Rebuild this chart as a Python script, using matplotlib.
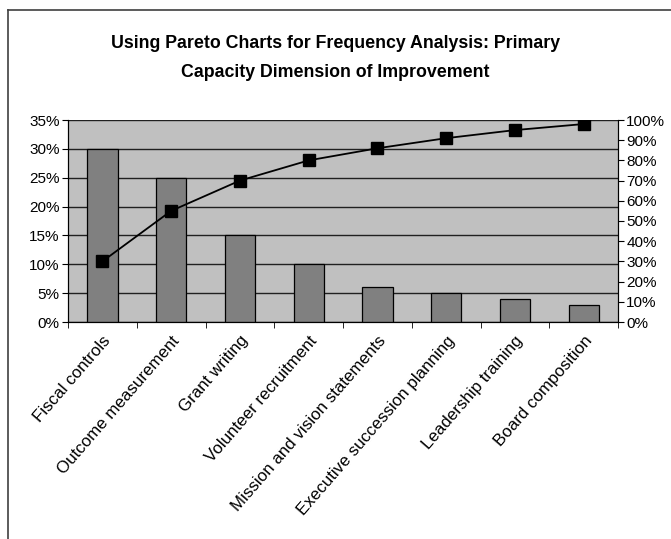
import matplotlib.pyplot as plt
from matplotlib.lines import Line2D
from matplotlib.ticker import FixedLocator

plt.rcParams['font.family'] = ['Liberation Sans', 'DejaVu Sans']

categories = ["Fiscal controls", "Outcome measurement", "Grant writing",
              "Volunteer recruitment", "Mission and vision statements",
              "Executive succession planning", "Leadership training",
              "Board composition"]
share = [30, 25, 15, 10, 6, 5, 4, 3]            # percent of respondents
cumulative = [30, 55, 70, 80, 86, 91, 95, 98]    # running total, percent

left_ticks = [0, 5, 10, 15, 20, 25, 30, 35]
right_ticks = [0, 10, 20, 30, 40, 50, 60, 70, 80, 90, 100]

fig = plt.figure(figsize=(6.71, 5.39), dpi=100)
fig.patch.set_facecolor('white')

# chart area frame (left and top edges only, the rest runs off the page)
fig.add_artist(Line2D([8 / 671, 8 / 671], [0, 1 - 10 / 539], color='#404040', lw=1.2,
                      transform=fig.transFigure))
fig.add_artist(Line2D([8 / 671, 1], [1 - 10 / 539, 1 - 10 / 539], color='#404040', lw=1.2,
                      transform=fig.transFigure))

ax = fig.add_axes([68 / 671, 1 - 322 / 539, 550 / 671, 202 / 539])
ax.set_facecolor('#C0C0C0')

x = list(range(len(categories)))
ax.bar(x, share, width=0.44, color='#808080', edgecolor='black', linewidth=0.9, zorder=3)

ax.set_xlim(-0.5, len(categories) - 0.5)
ax.set_ylim(0, 35)
ax.set_yticks(left_ticks)
ax.set_yticklabels([f"{v}%" for v in left_ticks], fontsize=11)
ax.grid(axis='y', color='#202020', linewidth=1.0, zorder=1)
ax.set_axisbelow(True)

ax.set_xticks(x)
ax.set_xticklabels(categories, rotation=49, ha='right', rotation_mode='anchor', fontsize=12.2)
ax.tick_params(axis='x', which='major', length=0, pad=8)
ax.xaxis.set_minor_locator(FixedLocator([i - 0.5 for i in range(len(categories) + 1)]))
ax.tick_params(axis='x', which='minor', length=4, direction='out')
ax.tick_params(axis='y', length=4, direction='out', pad=2)

ax.spines['top'].set_visible(False)
ax.spines['left'].set_color('black')
ax.spines['bottom'].set_color('black')

ax2 = ax.twinx()
ax2.plot(x, cumulative, color='black', lw=1.3, marker='s', markersize=8,
         markerfacecolor='black', markeredgecolor='black', zorder=4)
ax2.set_ylim(0, 100)
ax2.set_yticks(right_ticks)
ax2.set_yticklabels([f"{v}%" for v in right_ticks], fontsize=11)
ax2.tick_params(axis='y', length=4, direction='out', pad=2)
ax2.spines['top'].set_visible(False)
ax2.spines['right'].set_color('black')

fig.text(0.5, 1 - 58 / 539,
         "Using Pareto Charts for Frequency Analysis: Primary\nCapacity Dimension of Improvement",
         ha='center', va='center', fontsize=12.8, fontweight='bold', linespacing=1.85)

fig.savefig('out.png', dpi=100)
